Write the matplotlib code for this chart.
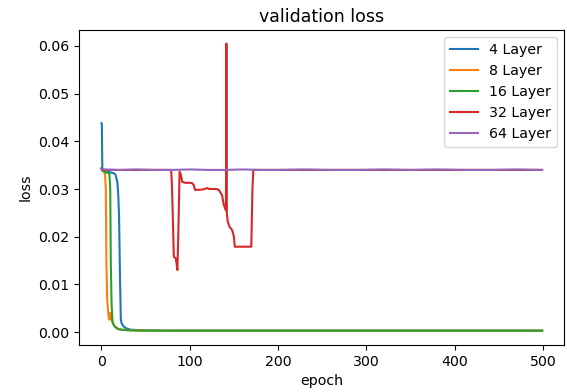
import matplotlib
matplotlib.use("Agg")
import matplotlib.pyplot as plt

# key points (epoch, loss)
ep4 = [0, 0.5, 1, 5, 10, 14, 16, 18, 19, 20, 21, 22, 23, 25, 28, 33, 45, 70, 120, 499]
loss4 = [0.0438, 0.0436, 0.0343, 0.0337, 0.0335, 0.0333, 0.0330, 0.0315, 0.0291, 0.0242, 0.0120, 0.0025, 0.0018, 0.0012, 0.0008, 0.0005, 0.0004, 0.0003, 0.0003, 0.0003]

ep8 = [0, 1, 3, 4, 5, 5.6, 6.5, 7.5, 8, 9, 10, 12, 15, 20, 30, 60, 499]
loss8 = [0.0343, 0.0340, 0.0336, 0.0333, 0.0300, 0.0150, 0.0070, 0.0047, 0.0035, 0.0026, 0.0040, 0.0022, 0.0012, 0.0006, 0.0004, 0.0003, 0.0003]

ep16 = [0, 1, 5, 9, 10, 10.6, 11.5, 12.4, 13, 15, 18, 22, 29, 40, 60, 499]
loss16 = [0.0343, 0.0338, 0.0335, 0.0333, 0.0300, 0.0150, 0.0060, 0.0026, 0.0019, 0.0012, 0.0007, 0.0005, 0.0004, 0.0003, 0.0003, 0.0003]

ep32 = [0, 1, 40, 79, 80, 82, 84, 85, 86, 87, 88.5, 90, 91.5, 95, 100, 103, 104.6, 106, 115, 120, 122, 130,
        133, 136.6, 138.5, 140, 141, 141.5, 142, 143, 145, 148, 150, 151, 160, 169.7, 171, 172, 499]
loss32 = [0.0343, 0.0340, 0.0340, 0.0340, 0.0300, 0.0158, 0.0155, 0.0145, 0.0130, 0.0200, 0.0336, 0.0330, 0.0315, 0.0313, 0.0313, 0.0312, 0.0308, 0.0298, 0.0299, 0.0302, 0.0300, 0.0300,
          0.0298, 0.0287, 0.0267, 0.0260, 0.0255, 0.0605, 0.0250, 0.0232, 0.0221, 0.0214, 0.0200, 0.0179, 0.0179, 0.0179, 0.0300, 0.0340, 0.0340]

ep64 = [0, 1, 20, 40, 60, 80, 100, 120, 140, 160, 180, 200, 230, 260, 290, 320, 350, 380, 410, 440, 470, 499]
loss64 = [0.0343, 0.0341, 0.0340, 0.0341, 0.0340, 0.0340, 0.0341, 0.0340, 0.0340, 0.0341, 0.0340, 0.0340, 0.0341, 0.0340, 0.0340, 0.0341, 0.0340, 0.0341, 0.0340, 0.0340, 0.0341, 0.0340]

labels = ["4 Layer", "8 Layer", "16 Layer", "32 Layer", "64 Layer"]

plt.rcParams["font.size"] = 10.2

fig = plt.figure(figsize=(5.67, 3.92), dpi=100)
ax = fig.add_axes([0.140, 0.120, 0.855, 0.803])

for ep, loss, lab in zip([ep4, ep8, ep16, ep32, ep64],
                         [loss4, loss8, loss16, loss32, loss64], labels):
    ax.plot(ep, loss, label=lab, linewidth=1.5)

ax.set_title("validation loss", fontsize=12.5)
ax.set_xlabel("epoch")
ax.set_ylabel("loss")
ax.set_xticks([0, 100, 200, 300, 400, 500])
ax.set_yticks([0.00, 0.01, 0.02, 0.03, 0.04, 0.05, 0.06])
ax.set_ylim(-0.0027, 0.0633)
ax.legend(loc="upper right")

fig.savefig("out.png", dpi=100)
